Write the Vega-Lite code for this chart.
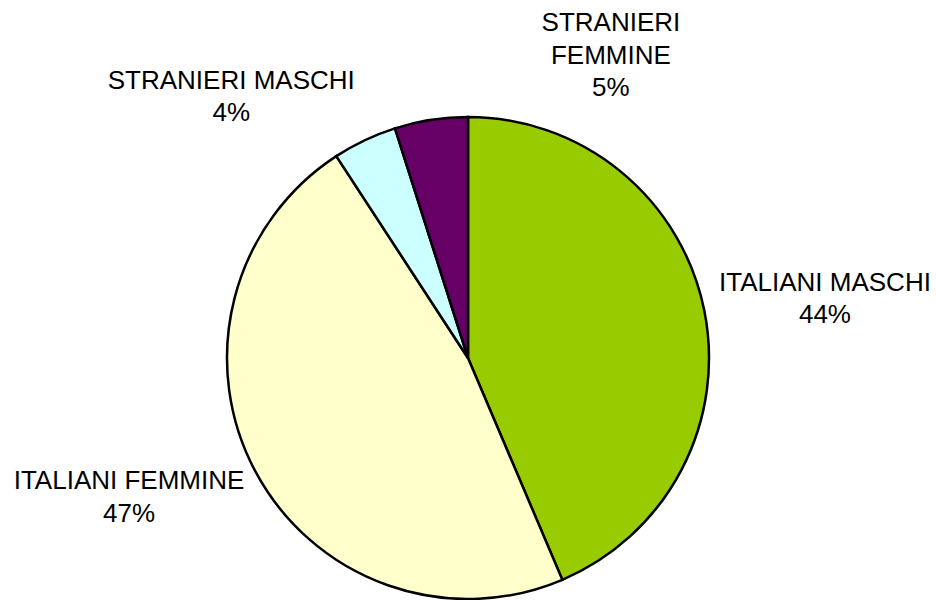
{
  "$schema": "https://vega.github.io/schema/vega-lite/v6.json",
  "autosize": "none",
  "width": 936,
  "height": 484,
  "padding": {"top": 116, "left": 0, "right": 0, "bottom": 0},
  "background": "white",
  "view": {"stroke": null},
  "data": {
    "values": [
      {"idx": 1, "category": "ITALIANI MASCHI", "value": 43.6, "label": "ITALIANI MASCHI\n44%"},
      {"idx": 2, "category": "ITALIANI FEMMINE", "value": 47.2, "label": "ITALIANI FEMMINE\n47%"},
      {"idx": 3, "category": "STRANIERI MASCHI", "value": 4.3, "label": "STRANIERI MASCHI\n4%"},
      {"idx": 4, "category": "STRANIERI FEMMINE", "value": 4.9, "label": "STRANIERI\nFEMMINE\n5%"}
    ]
  },
  "encoding": {
    "theta": {"field": "value", "type": "quantitative", "stack": true},
    "order": {"field": "idx", "type": "quantitative"}
  },
  "layer": [
    {
      "mark": {"type": "arc", "outerRadius": 241, "stroke": "black", "strokeWidth": 2.5},
      "encoding": {
        "color": {
          "field": "category",
          "type": "nominal",
          "scale": {
            "domain": ["ITALIANI MASCHI", "ITALIANI FEMMINE", "STRANIERI MASCHI", "STRANIERI FEMMINE"],
            "range": ["#99CC00", "#FFFFCC", "#CCFFFF", "#660066"]
          },
          "legend": null
        }
      }
    },
    {
      "mark": {"type": "text", "radius": 364.8, "thetaOffset": -0.007, "font": "Liberation Sans", "fontSize": 26, "lineHeight": 32.5, "lineBreak": "\n", "align": "center", "baseline": "middle", "color": "black"},
      "encoding": {
        "detail": {"field": "category", "type": "nominal"},
        "text": {"condition": {"test": "datum.category === 'ITALIANI MASCHI'", "field": "label"}, "value": ""}
      }
    },
    {
      "mark": {"type": "text", "radius": 360.7, "thetaOffset": 0.1414, "font": "Liberation Sans", "fontSize": 26, "lineHeight": 32.5, "lineBreak": "\n", "align": "center", "baseline": "middle", "color": "black"},
      "encoding": {
        "detail": {"field": "category", "type": "nominal"},
        "text": {"condition": {"test": "datum.category === 'ITALIANI FEMMINE'", "field": "label"}, "value": ""}
      }
    },
    {
      "mark": {"type": "text", "radius": 364.7, "thetaOffset": -0.2635, "font": "Liberation Sans", "fontSize": 26, "lineHeight": 32.5, "lineBreak": "\n", "align": "center", "baseline": "middle", "color": "black"},
      "encoding": {
        "detail": {"field": "category", "type": "nominal"},
        "text": {"condition": {"test": "datum.category === 'STRANIERI MASCHI'", "field": "label"}, "value": ""}
      }
    },
    {
      "mark": {"type": "text", "radius": 363.8, "thetaOffset": 0.5576, "font": "Liberation Sans", "fontSize": 26, "lineHeight": 32.5, "lineBreak": "\n", "align": "center", "baseline": "middle", "color": "black"},
      "encoding": {
        "detail": {"field": "category", "type": "nominal"},
        "text": {"condition": {"test": "datum.category === 'STRANIERI FEMMINE'", "field": "label"}, "value": ""}
      }
    }
  ]
}
